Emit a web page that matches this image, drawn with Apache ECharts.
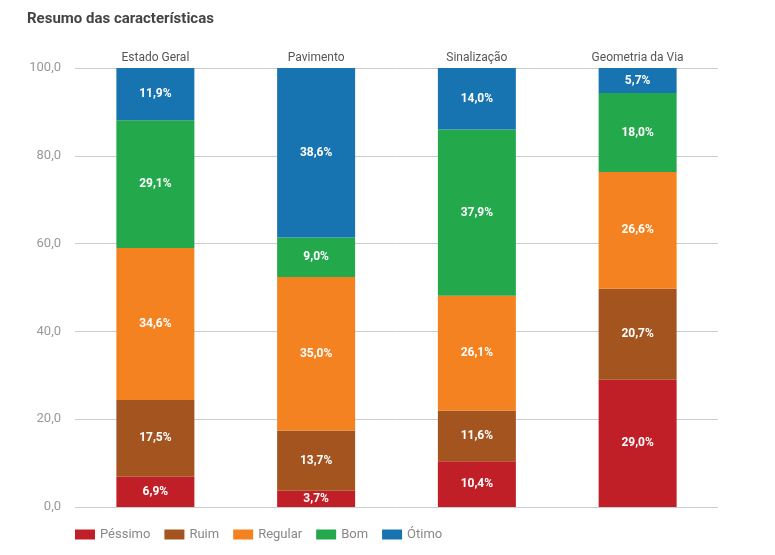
<!DOCTYPE html>
<html>
<head>
<meta charset="utf-8">
<script src="https://cdn.jsdelivr.net/npm/echarts@6/dist/echarts.min.js"></script>
<style>html,body{margin:0;padding:0;background:#fff}#chart{width:775px;height:555px}</style>
</head>
<body>
<div id="chart"></div>
<script>
var categories = ['Estado Geral', 'Pavimento', 'Sinalização', 'Geometria da Via'];
var seriesNames = ['Péssimo', 'Ruim', 'Regular', 'Bom', 'Ótimo'];
var pessimo = [6.9, 3.7, 10.4, 29.0];
var ruim = [17.5, 13.7, 11.6, 20.7];
var regular = [34.6, 35.0, 26.1, 26.6];
var bom = [29.1, 9.0, 37.9, 18.0];
var otimo = [11.9, 38.6, 14.0, 5.7];
var colors = ['#C01F27', '#A3541F', '#F58220', '#23A84B', '#1874B1'];

var values = [pessimo, ruim, regular, bom, otimo];
var chart = echarts.init(document.getElementById('chart'));
chart.setOption({
	title: {
		text: 'Resumo das características',
		left: 22, top: 7,
		textStyle: { fontFamily: 'Roboto', fontSize: 15, fontWeight: 'bold', color: '#444' }
	},
	color: colors,
	legend: {
		data: seriesNames,
		left: 70, top: 523,
		icon: 'rect', itemWidth: 20, itemHeight: 10, itemGap: 14,
		textStyle: { fontFamily: 'Roboto', fontSize: 13, color: '#888' }
	},
	grid: { left: 75, right: 57, top: 68, bottom: 48 },
	xAxis: {
		type: 'category', position: 'top', data: categories,
		axisLine: { show: false }, axisTick: { show: false },
		axisLabel: { fontFamily: 'Roboto', fontSize: 12, color: '#555', margin: 4 }
	},
	yAxis: {
		type: 'value', min: 0, max: 100, interval: 20,
		axisLabel: { fontFamily: 'Roboto', fontSize: 13, color: '#999', margin: 14,
			formatter: function (v) { return v.toFixed(1).replace('.', ','); } },
		splitLine: { lineStyle: { color: '#ccc' } }
	},
	series: seriesNames.map(function (n, i) {
		return {
			name: n, type: 'bar', stack: 'total', barWidth: 78,
			data: values[i],
			label: {
				show: true, color: '#fff', fontFamily: 'Roboto', fontSize: 12, fontWeight: 'bold',
				formatter: function (p) { return p.value.toFixed(1).replace('.', ',') + '%'; }
			}
		};
	})
});
</script>
</body>
</html>
